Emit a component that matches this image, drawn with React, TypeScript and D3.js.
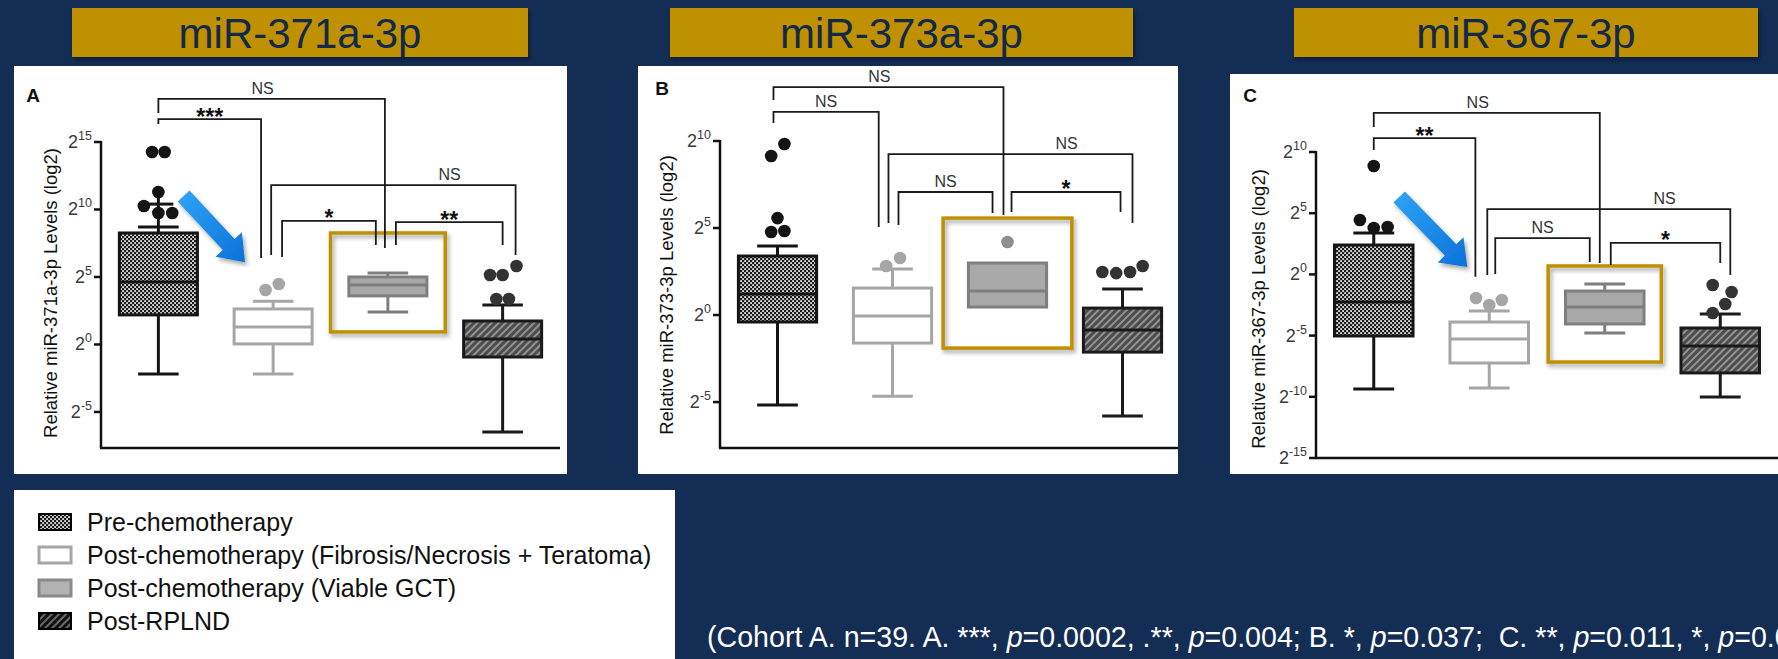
import React from "react";
import * as d3 from "d3";

const FONT = "'Liberation Sans', Arial, Helvetica, sans-serif";
const NAVY = "#132d54";
const GOLD = "#bf9000";

const groupKeys = ["pre", "fib", "viable", "rplnd"];
const legendLabels = [
  "Pre-chemotherapy",
  "Post-chemotherapy (Fibrosis/Necrosis + Teratoma)",
  "Post-chemotherapy (Viable GCT)",
  "Post-RPLND",
];

// box stats: [lower whisker, Q1, median, Q3, upper whisker] (log2 units)
const boxesA = [
  [-2.19, 2.19, 4.63, 8.26, 8.7],
  [-2.19, 0.04, 1.3, 2.63, 3.2],
  [2.4, 3.6, 4.4, 5.0, 5.3],
  [-6.48, -0.93, 0.41, 1.74, 2.93],
];
const boxesB = [
  [-5.17, -0.4, 1.21, 3.39, 3.97],
  [-4.66, -1.61, -0.06, 1.55, 2.64],
  [0.46, 0.46, 1.38, 2.99, 2.99],
  [-5.8, -2.13, -0.86, 0.4, 1.49],
];
const boxesC = [
  [-9.36, -5.03, -2.25, 2.4, 3.38],
  [-9.28, -7.24, -5.28, -3.89, -2.99],
  [-4.79, -4.05, -2.66, -1.36, -0.78],
  [-10.02, -8.05, -5.85, -4.38, -3.24],
];

// outliers: [log2 value, jitter in dot widths]
const dotsA = [
  [[14.26, -0.5], [14.26, 0.5], [11.3, 0], [10.26, -1.15], [9.74, 0], [9.74, 1.1]],
  [[4.04, -0.6], [4.48, 0.45]],
  [],
  [[5.15, -1.0], [5.15, 0], [5.81, 1.1], [3.37, -0.5], [3.37, 0.5]],
];
const dotsB = [
  [[9.14, -0.5], [9.83, 0.55], [5.57, 0], [4.77, -0.5], [4.83, 0.55]],
  [[2.82, -0.5], [3.28, 0.6]],
  [[4.2, 0]],
  [[2.47, -1.6], [2.41, -0.5], [2.47, 0.6], [2.82, 1.6]],
];
const dotsC = [
  [[8.86, 0], [4.44, -1.1], [3.79, 0], [3.87, 1.1]],
  [[-1.93, -1.05], [-2.5, 0], [-2.09, 1]],
  [],
  [[-0.87, -0.6], [-1.44, 0.9], [-2.42, 0.4], [-3.15, -0.6]],
];
const plusA = [10.4, null, null, null];

const ticksA = [15, 10, 5, 0, -5];
const ticksB = [10, 5, 0, -5];
const ticksC = [10, 5, 0, -5, -10, -15];

// significance brackets (a/b group index, ao/bo offset in steps, y levels in log2 units)
const bracketsA = [
  { a: 0, ao: 0, b: 2, bo: -0.026, y: 18.19, ya: 17.15, yb: 7.15, text: "NS", at: 0.46 },
  { a: 0, ao: 0, b: 1, bo: -0.105, y: 16.7, ya: 16.33, yb: 6.4, text: "***", at: 0.5 },
  { a: 1, ao: -0.017, b: 3, bo: 0.113, y: 11.81, ya: 6.63, yb: 6.63, text: "NS", at: 0.73 },
  { a: 1, ao: 0.078, b: 2, bo: -0.105, y: 9.15, ya: 6.48, yb: 7.37, text: "*", at: 0.5 },
  { a: 2, ao: 0.07, b: 3, bo: 0, y: 9.07, ya: 7.37, yb: 7.37, text: "**", at: 0.5 },
];
const bracketsB = [
  { a: 0, ao: -0.035, b: 2, bo: -0.035, y: 13.1, ya: 12.36, yb: 5.75, text: "NS", at: 0.46 },
  { a: 0, ao: -0.035, b: 1, bo: -0.12, y: 11.67, ya: 11.03, yb: 5.06, text: "NS", at: 0.5 },
  { a: 1, ao: -0.035, b: 3, bo: 0.087, y: 9.25, ya: 5.29, yb: 5.29, text: "NS", at: 0.73 },
  { a: 1, ao: 0.052, b: 2, bo: -0.13, y: 7.07, ya: 5.17, yb: 5.86, text: "NS", at: 0.5 },
  { a: 2, ao: 0.035, b: 3, bo: -0.017, y: 7.07, ya: 5.92, yb: 5.92, text: "*", at: 0.5 },
];
const bracketsC = [
  { a: 0, ao: 0, b: 2, bo: -0.043, y: 13.19, ya: 12.04, yb: 0.93, text: "NS", at: 0.46 },
  { a: 0, ao: 0, b: 1, bo: -0.12, y: 11.14, ya: 10.16, yb: -0.2, text: "**", at: 0.5 },
  { a: 1, ao: -0.017, b: 3, bo: 0.087, y: 5.34, ya: -0.05, yb: -0.05, text: "NS", at: 0.73 },
  { a: 1, ao: 0.052, b: 2, bo: -0.13, y: 2.97, ya: 0.03, yb: 1.01, text: "NS", at: 0.5 },
  { a: 2, ao: 0.052, b: 3, bo: 0, y: 2.57, ya: 0.77, yb: 0.93, text: "*", at: 0.5 },
];

const groupStyle = [
  { fill: "url(#prePat)", stroke: "#141414", dot: "#141414" },
  { fill: "#ffffff", stroke: "#a6a6a6", dot: "#a6a6a6" },
  { fill: "#a9a9a9", stroke: "#7f7f7f", dot: "#8f8f8f" },
  { fill: "url(#rplndPat)", stroke: "#1a1a1a", dot: "#333333" },
];

const panels = [
  {
    letter: "A", title: "miR-371a-3p", titleBox: [72, 8, 528, 57], card: [14, 66, 567, 474],
    xRange: [101, 560], axisEnd: 560, yDomain: [-7.67, 15], yRange: [448, 142],
    ticks: ticksA, ylab: "Relative miR-371a-3p Levels (log2)", ylabPos: [50, 293], letterPos: [33, 102],
    boxes: boxesA, dots: dotsA, plus: plusA, brackets: bracketsA,
    hl: { g: 2, half: 0.5, top: 8.26, bottom: 0.93 },
    arrow: { from: [0, 0.22, 11.0], to: [1, -0.245, 6.1] },
  },
  {
    letter: "B", title: "miR-373a-3p", titleBox: [670, 8, 1133, 57], card: [638, 66, 1178, 474],
    xRange: [720, 1180], axisEnd: 1178, yDomain: [-7.64, 10], yRange: [448, 141],
    ticks: ticksB, ylab: "Relative miR-373-3p Levels (log2)", ylabPos: [666, 295], letterPos: [662, 95],
    boxes: boxesB, dots: dotsB, plus: [null, null, null, null], brackets: bracketsB,
    hl: { g: 2, half: 0.56, top: 5.57, bottom: -1.9 },
    arrow: null,
  },
  {
    letter: "C", title: "miR-367-3p", titleBox: [1294, 8, 1758, 57], card: [1230, 74, 1778, 474],
    xRange: [1316, 1778], axisEnd: 1778, yDomain: [-15, 10], yRange: [458, 152],
    ticks: ticksC, ylab: "Relative miR-367-3p Levels (log2)", ylabPos: [1258, 309], letterPos: [1250, 102],
    boxes: boxesC, dots: dotsC, plus: [null, null, null, null], brackets: bracketsC,
    hl: { g: 2, half: 0.49, top: 0.69, bottom: -7.16 },
    arrow: { from: [0, 0.22, 6.32], to: [1, -0.19, 0.6] },
  },
];

function arrowPath(x0, y0, x1, y1) {
  const dx = x1 - x0, dy = y1 - y0;
  const L = Math.hypot(dx, dy);
  const ux = dx / L, uy = dy / L, nx = -uy, ny = ux;
  const bw = 8, hw = 18, hl = 24;
  const bx = x1 - ux * hl, by = y1 - uy * hl;
  const pts = [
    [x0 + nx * bw, y0 + ny * bw],
    [bx + nx * bw, by + ny * bw],
    [bx + nx * hw, by + ny * hw],
    [x1, y1],
    [bx - nx * hw, by - ny * hw],
    [bx - nx * bw, by - ny * bw],
    [x0 - nx * bw, y0 - ny * bw],
  ];
  return d3.line()(pts) + "Z";
}

function Panel({ p }) {
  const x = d3.scalePoint().domain(groupKeys).range(p.xRange).padding(0.5);
  const step = x.step();
  const y = d3.scaleLinear().domain(p.yDomain).range(p.yRange);
  const bw = step * 0.68;
  const cap = bw * 0.52;
  const r = 6.3;
  const gx = (i, off = 0) => x(groupKeys[i]) + off * step;
  const [cx0, cy0, cx1, cy1] = p.card;
  const [tx0, ty0, tx1, ty1] = p.titleBox;
  const axisX = p.xRange[0];
  const axisY = p.yRange[0];

  return (
    <g>
      <rect x={tx0} y={ty0} width={tx1 - tx0} height={ty1 - ty0} fill={GOLD} filter="url(#shadow)" />
      <text x={(tx0 + tx1) / 2} y={(ty0 + ty1) / 2 + 15} textAnchor="middle" fontSize={42} fill="#13294b" fontFamily={FONT}>
        {p.title}
      </text>
      <rect x={cx0} y={cy0} width={cx1 - cx0} height={cy1 - cy0} fill="#ffffff" />
      <text x={p.letterPos[0]} y={p.letterPos[1]} fontSize={19} fontWeight="bold" textAnchor="middle" fontFamily={FONT} fill="#111">
        {p.letter}
      </text>

      {/* highlight box */}
      <rect
        x={gx(p.hl.g, -p.hl.half)}
        y={y(p.hl.top)}
        width={p.hl.half * 2 * step}
        height={y(p.hl.bottom) - y(p.hl.top)}
        fill="none"
        stroke={GOLD}
        strokeWidth={3.5}
        filter="url(#shadow)"
      />

      {/* axes */}
      <line x1={axisX} x2={axisX} y1={y(p.ticks[0]) - 1} y2={axisY} stroke="#111" strokeWidth={2.5} />
      <line x1={axisX - 1} x2={p.axisEnd} y1={axisY} y2={axisY} stroke="#111" strokeWidth={2.5} />
      {p.ticks.map((t) => (
        <g key={t}>
          <line x1={axisX - 7} x2={axisX} y1={y(t)} y2={y(t)} stroke="#111" strokeWidth={2.5} />
          <text x={axisX - 9} y={y(t) + 6} textAnchor="end" fontFamily={FONT} fill="#3a3a3a">
            <tspan fontSize={18}>2</tspan>
            <tspan fontSize={12.5} dy={-8}>{t}</tspan>
          </text>
        </g>
      ))}
      <text
        transform={`translate(${p.ylabPos[0]},${p.ylabPos[1]}) rotate(-90)`}
        textAnchor="middle"
        dominantBaseline="central"
        fontSize={18.5}
        fontFamily={FONT}
        fill="#111"
      >
        {p.ylab}
      </text>

      {/* brackets */}
      {p.brackets.map((b, i) => {
        const xa = gx(b.a, b.ao), xb = gx(b.b, b.bo), yy = y(b.y);
        const star = b.text !== "NS";
        return (
          <g key={i}>
            <path
              d={`M${xa},${y(b.ya)}V${yy}H${xb}V${y(b.yb)}`}
              fill="none"
              stroke="#1a1a1a"
              strokeWidth={1.8}
            />
            <text
              x={xa + (xb - xa) * b.at}
              y={star ? yy + 5.5 : yy - 5}
              textAnchor="middle"
              fontSize={star ? 23 : 16}
              fontFamily={FONT}
              fill={star ? "#111" : "#333"}
              fontWeight={star ? "bold" : "normal"}
            >
              {b.text}
            </text>
          </g>
        );
      })}

      {/* boxes */}
      {p.boxes.map((s, i) => {
        const [lo, q1, med, q3, hi] = s;
        const st = groupStyle[i];
        const cx = gx(i);
        return (
          <g key={i}>
            {hi > q3 && <line x1={cx} x2={cx} y1={y(q3)} y2={y(hi)} stroke={st.stroke} strokeWidth={3} />}
            {lo < q1 && <line x1={cx} x2={cx} y1={y(q1)} y2={y(lo)} stroke={st.stroke} strokeWidth={3} />}
            {hi > q3 && <line x1={cx - cap / 2} x2={cx + cap / 2} y1={y(hi)} y2={y(hi)} stroke={st.stroke} strokeWidth={3} />}
            {lo < q1 && <line x1={cx - cap / 2} x2={cx + cap / 2} y1={y(lo)} y2={y(lo)} stroke={st.stroke} strokeWidth={3} />}
            <rect x={cx - bw / 2} y={y(q3)} width={bw} height={y(q1) - y(q3)} fill={st.fill} stroke={st.stroke} strokeWidth={3} />
            <line x1={cx - bw / 2} x2={cx + bw / 2} y1={y(med)} y2={y(med)} stroke={st.stroke} strokeWidth={3} />
            {p.plus[i] != null && (
              <g stroke={st.stroke} strokeWidth={3}>
                <line x1={cx - 15} x2={cx + 15} y1={y(p.plus[i])} y2={y(p.plus[i])} />
                <line x1={cx} x2={cx} y1={y(p.plus[i]) - 9} y2={y(hi)} />
              </g>
            )}
            {p.dots[i].map((d, j) => (
              <circle key={j} cx={cx + d[1] * r * 2} cy={y(d[0])} r={r} fill={st.dot} />
            ))}
          </g>
        );
      })}

      {p.arrow && (
        <path
          d={arrowPath(
            gx(p.arrow.from[0], p.arrow.from[1]),
            y(p.arrow.from[2]),
            gx(p.arrow.to[0], p.arrow.to[1]),
            y(p.arrow.to[2])
          )}
          fill="url(#blueGrad)"
          filter="url(#shadow)"
        />
      )}
    </g>
  );
}

const legendSwatch = [
  { fill: "url(#prePat)", stroke: "#000", sw: 2 },
  { fill: "#ffffff", stroke: "#a6a6a6", sw: 3 },
  { fill: "#b3b3b3", stroke: "#8a8a8a", sw: 3 },
  { fill: "url(#rplndLeg)", stroke: "#000", sw: 2 },
];

export default function App() {
  const W = 1778, H = 659;
  const rowY = d3.scalePoint().domain(legendLabels).range([522, 621]);
  return (
    <svg width={W} height={H} style={{ position: "absolute", left: 0, top: 0 }} fontFamily={FONT}>
      <defs>
        <pattern id="prePat" width={4} height={4} patternUnits="userSpaceOnUse">
          <rect width={4} height={4} fill="#1c1c1c" />
          <rect x={0.2} y={0.2} width={1.7} height={1.7} fill="#ffffff" />
          <rect x={2.2} y={2.2} width={1.7} height={1.7} fill="#ffffff" />
        </pattern>
        <pattern id="rplndPat" width={5} height={5} patternUnits="userSpaceOnUse" patternTransform="rotate(45)">
          <rect width={5} height={5} fill="#4d4d4d" />
          <line x1={1} x2={1} y1={0} y2={5} stroke="#b0b0b0" strokeWidth={1.4} />
        </pattern>
        <pattern id="rplndLeg" width={5} height={5} patternUnits="userSpaceOnUse" patternTransform="rotate(45)">
          <rect width={5} height={5} fill="#111" />
          <line x1={1} x2={1} y1={0} y2={5} stroke="#9a9a9a" strokeWidth={1.3} />
        </pattern>
        <linearGradient id="blueGrad" x1="0" y1="0" x2="1" y2="1">
          <stop offset="0%" stopColor="#2fa4f6" />
          <stop offset="100%" stopColor="#0b72d8" />
        </linearGradient>
        <filter id="shadow" x="-20%" y="-20%" width="140%" height="140%">
          <feDropShadow dx={2} dy={3} stdDeviation={2} floodColor="#000" floodOpacity={0.35} />
        </filter>
      </defs>

      <rect width={W} height={H} fill={NAVY} />

      {panels.map((p) => (
        <Panel key={p.letter} p={p} />
      ))}

      {/* legend */}
      <rect x={14} y={490} width={661} height={175} fill="#ffffff" />
      {legendLabels.map((lab, i) => {
        const cy = rowY(lab);
        const s = legendSwatch[i];
        return (
          <g key={lab}>
            <rect x={39} y={cy - 8} width={32} height={16} fill={s.fill} stroke={s.stroke} strokeWidth={s.sw} />
            <text x={87} y={cy + 9} fontSize={25} fill="#111" fontFamily={FONT}>
              {lab}
            </text>
          </g>
        );
      })}

      <text x={707} y={647} fontSize={28.6} fill="#ffffff" fontFamily={FONT}>
        (Cohort A. n=39. A. ***, <tspan fontStyle="italic">p</tspan>=0.0002, .**, <tspan fontStyle="italic">p</tspan>=0.004; B. *,{" "}
        <tspan fontStyle="italic">p</tspan>=0.037;{"\u00a0 "}C. **, <tspan fontStyle="italic">p</tspan>=0.011, *,{" "}
        <tspan fontStyle="italic">p</tspan>=0.003)
      </text>
    </svg>
  );
}
